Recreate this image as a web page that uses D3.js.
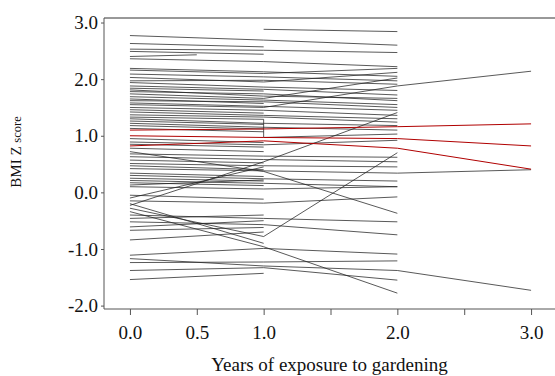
<!DOCTYPE html>
<html>
<head>
<meta charset="utf-8">
<script src="https://cdn.jsdelivr.net/npm/d3@7"></script>
<style>
  body { margin: 0; background: #fff; }
  svg { display: block; }
</style>
</head>
<body>
<div id="chart"></div>
<script>
// BMI z-score per child at each visit (years of exposure), null = no visit
const visitYears = [0, 0.5, 1, 2, 3];
const z0 = [null, 2.77, 2.63, 2.53, 2.49, 2.40, 2.36, 2.19, 2.16, 2.09, 2.03, 1.97, 1.94, 1.88, 1.84, 1.81, 1.78, 1.74, 1.69, 1.65, 1.62, 1.58, 1.55, 1.50, 1.46, 1.42, 1.37, 1.33, 1.30, 1.26, 1.22, 1.18, 1.13, 1.10, 1.00, 0.82, 0.95, 0.89, 0.85, 0.78, 0.72, 0.68, 0.63, 0.57, 0.51, 0.47, 0.42, 0.34, 0.30, 0.25, 0.21, 0.17, 0.13, 0.10, -0.05, -0.10, -0.15, -0.20, -0.23, -0.28, -0.34, -0.40, -0.46, -0.52, -0.61, -0.67, -0.84, -1.11, -1.17, -1.24, -1.38, -1.54];
const zHalf = [null, null, null, null, null, 2.43, null, null, null, null, null, null, null, null, null, null, null, null, null, null, null, null, null, null, null, null, null, null, null, null, null, null, null, null, null, null, null, null, null, null, null, null, null, null, null, null, null, null, null, null, null, null, null, null, null, null, null, null, null, null, null, null, null, null, null, null, null, null, null, null, null, null];
const z1 = [2.88, 2.69, 2.57, 2.51, 2.44, null, 2.31, 2.13, 2.10, 2.04, 1.95, 1.98, 1.86, 1.82, 1.79, 1.70, 1.74, 1.66, 1.63, 1.57, 1.60, 1.52, 1.50, 1.45, 1.40, 1.36, 1.33, 1.29, 1.22, 1.20, 1.15, 1.12, 1.07, 1.12, 0.97, 0.91, 0.88, 0.84, 0.80, 0.72, 0.37, 0.64, 0.58, 0.52, 0.47, 0.40, 0.38, 0.28, 0.24, 0.20, 0.16, 0.12, 0.22, 0.06, -0.12, 0.45, -0.19, -0.90, 0.54, -0.78, -0.96, -0.46, -0.40, -0.57, -0.50, -0.62, -0.70, -0.99, -1.30, -1.23, -1.33, -1.43];
const z2 = [2.84, 2.60, null, 2.47, null, null, 2.22, 2.05, 2.19, 1.97, 2.12, 1.91, 1.80, 1.72, null, 1.66, 1.62, 2.02, 1.55, null, 1.50, 1.45, 1.88, 1.36, null, 1.30, 1.24, 1.03, 1.18, null, 1.10, null, null, 1.16, 0.95, 0.78, null, 0.92, null, null, -0.37, 0.62, 0.54, null, 0.45, null, 0.34, null, 0.20, null, 0.10, null, null, 0.10, null, null, -0.08, null, 1.41, 0.70, -1.78, -0.52, null, -0.75, null, null, null, -1.09, -1.38, -1.21, -1.55, null];
const z3 = [null, null, null, null, null, null, null, null, null, null, null, null, null, null, null, null, null, null, null, null, null, null, 2.14, null, null, null, null, null, null, null, null, null, null, 1.21, 0.82, 0.41, null, null, null, null, null, null, null, null, null, null, 0.40, null, null, null, null, null, null, null, null, null, null, null, null, null, null, null, null, null, null, null, null, null, -1.73, null, null, null];
// one child measured twice at year 1
const repeatYear1 = { child: 27, z: 0.97 };
const redChildren = [33, 34, 35];
const xTicks = [0, 0.5, 1, 1.5, 2, 2.5, 3];
const xLabelled = [0, 0.5, 1, 2, 3];
const yTicks = [-2, -1, 0, 1, 2, 3];

const width = 555, height = 376;
const margin = { top: 18, right: 0, bottom: 67, left: 104 };

const svg = d3.select('#chart').append('svg')
  .attr('width', width)
  .attr('height', height);

const x = d3.scaleLinear().domain([-0.194, 3.179]).range([margin.left, width - margin.right]);
const y = d3.scaleLinear().domain([-2.06, 3.08]).range([height - margin.bottom, margin.top]);

// build each child's trajectory
const series = [z0, zHalf, z1, z2, z3];
const children = z0.map((_, i) => {
  const pts = [];
  series.forEach((s, k) => {
    if (s[i] != null) pts.push([visitYears[k], s[i]]);
    if (k === 2 && repeatYear1.child === i) pts.push([1, repeatYear1.z]);
  });
  return { id: i, pts, red: redChildren.includes(i) };
});

const line = d3.line().x(d => x(d[0])).y(d => y(d[1]));

const g = svg.append('g');
g.selectAll('path.child')
  .data(children.filter(c => !c.red))
  .join('path')
  .attr('class', 'child')
  .attr('d', d => line(d.pts))
  .attr('fill', 'none')
  .attr('stroke', '#222')
  .attr('stroke-width', 0.75);

g.selectAll('path.red')
  .data(children.filter(c => c.red))
  .join('path')
  .attr('class', 'red')
  .attr('d', d => line(d.pts))
  .attr('fill', 'none')
  .attr('stroke', '#b00000')
  .attr('stroke-width', 1);

// frame: top border
svg.append('line')
  .attr('x1', margin.left).attr('x2', width)
  .attr('y1', margin.top).attr('y2', margin.top)
  .attr('stroke', '#333').attr('stroke-width', 1);

const font = '"Liberation Serif", "Times New Roman", serif';

const xAxis = svg.append('g')
  .attr('transform', `translate(0,${height - margin.bottom})`)
  .call(d3.axisBottom(x).tickValues(xTicks).tickSize(6).tickPadding(11)
    .tickFormat(d => xLabelled.includes(d) ? d.toFixed(1) : ''));

const yAxis = svg.append('g')
  .attr('transform', `translate(${margin.left},0)`)
  .call(d3.axisLeft(y).tickValues(yTicks).tickSize(3).tickPadding(3)
    .tickFormat(d => d.toFixed(1)));

[xAxis, yAxis].forEach(a => {
  a.selectAll('.tick line').attr('stroke', '#555');
  a.selectAll('text')
    .style('font-family', font)
    .style('font-size', '19px')
    .attr('fill', '#111');
});
xAxis.select('.domain').attr('stroke', '#555').attr('d', `M${margin.left},0H${width}`);
yAxis.select('.domain').attr('stroke', '#555').attr('d', `M0,${margin.top}V${height - margin.bottom}`);

svg.append('text')
  .attr('x', (margin.left + width) / 2)
  .attr('y', 371)
  .attr('text-anchor', 'middle')
  .style('font-family', font)
  .style('font-size', '19px')
  .attr('fill', '#111')
  .text('Years of exposure to gardening');

const yl = svg.append('text')
  .attr('transform', 'translate(21,152) rotate(-90)')
  .attr('text-anchor', 'middle')
  .style('font-family', font)
  .attr('fill', '#111');
yl.append('tspan').style('font-size', '15px').text('BMI Z ');
yl.append('tspan').style('font-size', '12.5px').text('score');
</script>
</body>
</html>
